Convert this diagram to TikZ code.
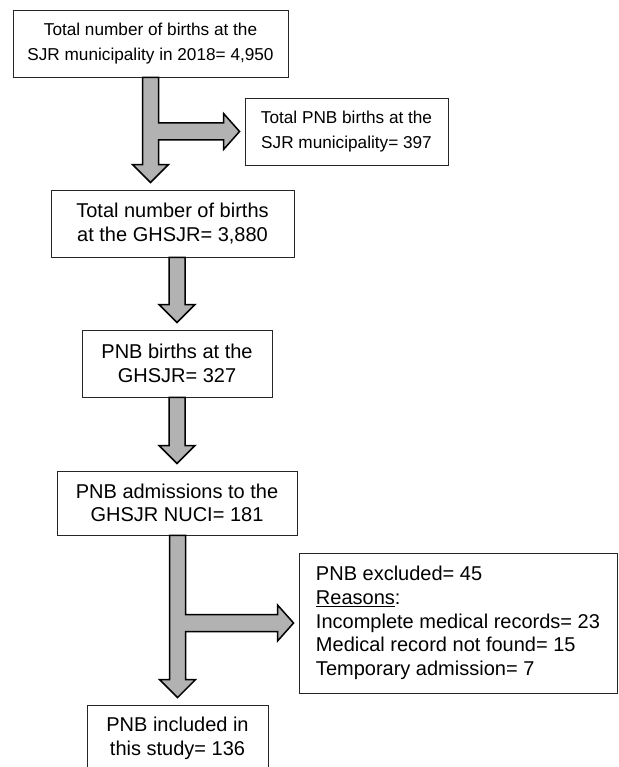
\documentclass[tikz,border=0pt]{standalone}
\usepackage{fontspec}
\setmainfont{Liberation Sans}
\usetikzlibrary{calc}
\tikzstyle{box}=[draw=black!85,line width=0.9pt,align=center,inner sep=0pt,font=\fontsize{20}{23.6}\selectfont]
\tikzstyle{small box}=[box,font=\fontsize{17.2}{25}\selectfont]
\tikzstyle{fat arrow}=[draw=black,line width=1.5pt,fill=black!30,line join=miter]

% straight block arrow: from, to, node that gives the shaft x
\newcommand{\fatdown}[3]{%
  \path[fat arrow] let \p1=(#1.south), \p2=(#2.north), \p3=(#3.center) in
    (\x3-8pt,\y1) -- (\x3-8pt,\y2+25pt) -- (\x3-18pt,\y2+25pt) -- (\x3,\y2+7pt)
    -- (\x3+18pt,\y2+25pt) -- (\x3+8pt,\y2+25pt) -- (\x3+8pt,\y1) -- cycle;}
% block arrow with a branch to the right: from, to, side box, node that gives the shaft x
\newcommand{\fatbranch}[4]{%
  \path[fat arrow] let \p1=(#1.south), \p2=(#2.north), \p3=(#4.center), \p4=(#3.west) in
    (\x3-8pt,\y1) -- (\x3-8pt,\y2+25pt) -- (\x3-18pt,\y2+25pt) -- (\x3,\y2+7pt)
    -- (\x3+18pt,\y2+25pt) -- (\x3+8pt,\y2+25pt) -- (\x3+8pt,\y4-8.5pt)
    -- (\x4-21pt,\y4-8.5pt) -- (\x4-21pt,\y4-18pt) -- (\x4-5pt,\y4)
    -- (\x4-21pt,\y4+18pt) -- (\x4-21pt,\y4+8.5pt) -- (\x3+8pt,\y4+8.5pt)
    -- (\x3+8pt,\y1) -- cycle;}

\begin{document}
\begin{tikzpicture}[x=1pt,y=-1pt]
    \useasboundingbox (0,0) rectangle (618,767);
    % First we draw the boxes
    \node[small box,minimum width=275pt,minimum height=67pt] (total) at (150.5,43.5)
        {Total number of births at the\\SJR municipality in 2018= 4,950};
    \node[small box,minimum width=203pt,minimum height=67pt] (pnbmun) at (346.5,131.5)
        {Total PNB births at the\\SJR municipality= 397};
    \node[box,minimum width=243pt,minimum height=67pt] (ghsjr) at (172.5,223.5)
        {Total number of births\\at the GHSJR= 3,880};
    \node[box,minimum width=190pt,minimum height=67pt] (pnbghsjr) at (177,363.5)
        {PNB births at the\\GHSJR= 327};
    \node[box,minimum width=240pt,minimum height=64pt] (nuci) at (177,503)
        {PNB admissions to the\\GHSJR NUCI= 181};
    \node[box,align=left,minimum width=318pt,minimum height=140pt] (excl) at (458,623)
        {PNB excluded= 45\\\underline{Reasons}:\\Incomplete medical records= 23\\Medical record not found= 15\\Temporary admission= 7};
    \node[box,minimum width=181pt,minimum height=67pt] (incl) at (177.5,738.5)
        {PNB included in\\this study= 136};

    % Then the block arrows
    \fatbranch{total}{ghsjr}{pnbmun}{total}
    \foreach \source/\dest in {ghsjr/pnbghsjr, pnbghsjr/nuci}
        {\fatdown{\source}{\dest}{\dest}}
    \fatbranch{nuci}{incl}{excl}{incl}
\end{tikzpicture}
\end{document}
